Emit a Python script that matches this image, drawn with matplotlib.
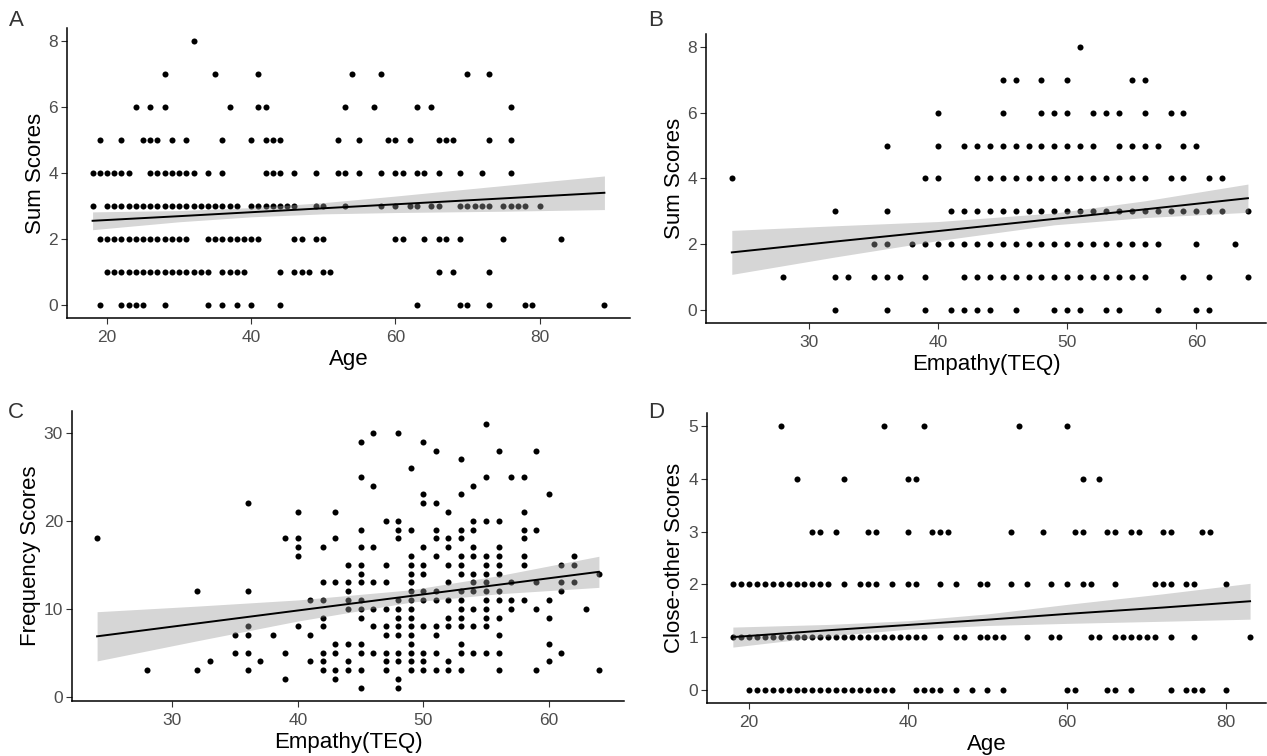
import numpy as np
import matplotlib
matplotlib.use("Agg")
import matplotlib.pyplot as plt

plt.rcParams['font.family'] = ['Liberation Sans', 'DejaVu Sans']

# Panel A: age of respondents for each sum score
a_scores = [0, 1, 2, 3, 4, 5, 6, 7, 8]
a_ages = [
    [19, 22, 23, 24, 25, 28, 34, 36, 38, 40, 44, 63, 69, 70, 73, 78, 79, 89],
    [20, 21, 22, 23, 24, 25, 26, 27, 28, 29, 30, 31, 32, 33, 34, 36, 37, 38, 39,
     44, 46, 47, 48, 50, 51, 66, 68, 73],
    [19, 20, 21, 22, 23, 24, 25, 26, 27, 28, 29, 30, 31, 34, 35, 36, 37, 38, 39,
     40, 41, 46, 47, 49, 50, 60, 61, 64, 66, 67, 69, 75, 83],
    [18, 20, 21, 22, 23, 24, 25, 26, 27, 28, 29, 30, 31, 32, 33, 34, 35, 36, 37,
     38, 40, 41, 42, 43, 44, 45, 46, 49, 50, 53, 58, 60, 62, 63, 65, 66, 69, 70,
     71, 72, 73, 75, 76, 77, 78, 80],
    [18, 19, 20, 21, 22, 23, 26, 27, 28, 29, 30, 31, 32, 34, 36, 42, 43, 44, 46,
     49, 52, 53, 55, 58, 60, 61, 63, 64, 66, 69, 72, 76],
    [19, 22, 25, 26, 27, 29, 31, 36, 40, 42, 43, 44, 52, 55, 59, 60, 62, 66, 67,
     68, 73, 76],
    [24, 26, 28, 37, 41, 42, 53, 57, 63, 65, 76],
    [28, 35, 41, 54, 58, 70, 73],
    [32],
]
# fitted line and 95% band
a_fit_x = [18, 30, 40, 50, 60, 75, 89]
a_fit_y = [2.55, 2.69, 2.81, 2.93, 3.05, 3.23, 3.40]
a_fit_lo = [2.28, 2.52, 2.67, 2.76, 2.80, 2.84, 2.89]
a_fit_hi = [2.82, 2.86, 2.95, 3.10, 3.30, 3.62, 3.91]

# Panel B: empathy (TEQ) for each sum score
b_scores = [0, 1, 2, 3, 4, 5, 6, 7, 8]
b_teq = [
    [32, 36, 39, 41, 42, 43, 44, 46, 49, 50, 51, 53, 54, 57, 60, 61],
    [28, 32, 33, 35, 36, 37, 39, 42, 43, 44, 45, 46, 47, 48, 49, 50, 51, 52, 53,
     54, 55, 56, 59, 61, 64],
    [35, 36, 38, 39, 40, 41, 42, 43, 44, 45, 46, 47, 48, 49, 50, 51, 52, 53, 54,
     55, 56, 57, 60, 63],
    [32, 36, 41, 42, 43, 44, 45, 46, 47, 48, 49, 50, 51, 52, 53, 54, 55, 56, 57,
     58, 59, 60, 61, 62, 64],
    [24, 39, 40, 43, 44, 45, 46, 47, 48, 49, 50, 51, 52, 53, 54, 55, 56, 58, 59,
     61, 62],
    [36, 40, 42, 43, 44, 45, 46, 47, 48, 49, 50, 51, 52, 54, 55, 56, 57, 59, 60],
    [40, 45, 48, 49, 50, 52, 53, 54, 56, 58, 59],
    [45, 46, 48, 50, 55, 56],
    [51],
]
b_fit_x = [24, 32, 40, 49, 56, 64]
b_fit_y = [1.75, 2.08, 2.40, 2.77, 3.06, 3.40]
b_fit_lo = [1.08, 1.61, 2.11, 2.59, 2.81, 2.97]
b_fit_hi = [2.42, 2.56, 2.69, 2.95, 3.32, 3.83]

# Panel C: frequency scores for each empathy (TEQ) value
c_teq = [24, 28, 32, 33, 35, 36, 37, 38, 39, 40, 41, 42, 43, 44, 45, 46, 47, 48,
         49, 50, 51, 52, 53, 54, 55, 56, 57, 58, 59, 60, 61, 62, 63, 64]
c_freq = [
    [18], [3], [12, 3], [4], [7, 5], [22, 12, 8, 7, 5, 3], [4], [7], [18, 5, 2],
    [21, 18, 17, 16, 8], [11, 7, 4], [17, 13, 11, 9, 8, 5, 4, 3],
    [21, 18, 13, 6, 5, 3, 2], [15, 13, 12, 11, 10, 6, 4, 3],
    [29, 25, 19, 17, 15, 14, 13, 11, 10, 9, 6, 5, 3, 1],
    [30, 24, 17, 13, 10, 8, 5], [20, 15, 13, 10, 8, 7, 5, 4, 3],
    [30, 20, 19, 18, 11, 10, 9, 8, 7, 5, 4, 2, 1],
    [26, 19, 16, 15, 14, 13, 12, 11, 10, 9, 8, 7, 6, 5, 4, 3],
    [29, 23, 22, 17, 15, 14, 12, 11, 8, 5, 4, 3],
    [28, 22, 19, 18, 16, 12, 11, 8, 7, 5, 3],
    [21, 18, 17, 15, 13, 11, 9, 8, 4, 3],
    [27, 23, 19, 18, 16, 15, 14, 12, 11, 10, 9, 8, 6, 5, 3],
    [24, 20, 19, 17, 16, 14, 13, 12, 10, 8, 5],
    [31, 25, 20, 16, 15, 14, 13, 12, 11, 10, 9, 8, 5],
    [28, 20, 17, 16, 15, 14, 12, 11, 9, 7, 5, 3],
    [25, 13, 11, 10], [25, 21, 19, 18, 16, 15, 11], [28, 19, 13, 10, 3],
    [23, 11, 9, 6, 4], [15, 13, 12, 5], [16, 15, 13], [10], [14, 3],
]
c_fit_x = [24, 32, 40, 49, 56, 64]
c_fit_y = [6.86, 8.33, 9.80, 11.45, 12.73, 14.20]
c_fit_lo = [4.06, 6.36, 8.60, 10.75, 11.70, 12.43]
c_fit_hi = [9.66, 10.30, 11.00, 12.15, 13.76, 15.97]

# Panel D: age of respondents for each close-other score
d_scores = [0, 1, 2, 3, 4, 5]
d_ages = [
    [20, 21, 22, 23, 24, 25, 26, 27, 28, 29, 30, 31, 32, 33, 34, 35, 36, 37, 38,
     41, 42, 43, 44, 46, 48, 50, 52, 60, 61, 65, 66, 68, 73, 75, 76, 77, 80],
    [18, 19, 20, 21, 22, 23, 24, 25, 26, 27, 28, 29, 30, 31, 32, 33, 34, 35, 36,
     37, 38, 39, 40, 41, 42, 44, 46, 47, 49, 50, 51, 52, 55, 58, 59, 63, 64, 66,
     67, 68, 69, 70, 71, 73, 76, 83],
    [18, 19, 20, 21, 22, 23, 24, 25, 26, 27, 28, 29, 30, 32, 34, 35, 36, 38, 40,
     41, 44, 46, 49, 50, 53, 55, 58, 60, 62, 63, 66, 71, 72, 73, 75, 76, 80],
    [28, 29, 31, 35, 36, 40, 43, 44, 45, 53, 57, 61, 62, 65, 66, 68, 69, 72, 73,
     77, 78],
    [26, 32, 40, 41, 62, 64],
    [24, 37, 42, 54, 60],
]
d_fit_x = [18, 30, 40, 50, 60, 72, 83]
d_fit_y = [1.00, 1.13, 1.23, 1.33, 1.44, 1.56, 1.68]
d_fit_lo = [0.81, 1.02, 1.15, 1.22, 1.26, 1.30, 1.34]
d_fit_hi = [1.19, 1.24, 1.31, 1.44, 1.62, 1.82, 2.02]


def flatten(groups, keys, group_is_x):
    xs, ys = [], []
    for k, vals in zip(keys, groups):
        for v in vals:
            if group_is_x:
                xs.append(k)
                ys.append(v)
            else:
                xs.append(v)
                ys.append(k)
    return xs, ys


def draw_panel(ax, x, y, fit, xlim, ylim, xticks, yticks, xlabel, ylabel):
    ax.scatter(x, y, s=19, color='black', zorder=2, linewidths=0)

    fx, fy, flo, fhi = fit
    ax.fill_between(fx, flo, fhi, color='#999999', alpha=0.4, linewidth=0, zorder=3)
    ax.plot(fx, fy, color='black', lw=1.4, zorder=4)

    ax.set_xlim(*xlim)
    ax.set_ylim(*ylim)
    ax.set_xticks(xticks)
    ax.set_yticks(yticks)
    for side in ['top', 'right']:
        ax.spines[side].set_visible(False)
    for side in ['left', 'bottom']:
        ax.spines[side].set_linewidth(1.1)
        ax.spines[side].set_color('black')
    ax.tick_params(colors='#333333', labelcolor='#4d4d4d', labelsize=12.5,
                   length=4, width=0.8, pad=2.5)
    ax.tick_params(axis='x', pad=4.5)
    ax.set_xlabel(xlabel, fontsize=16, labelpad=3)
    ax.set_ylabel(ylabel, fontsize=16, labelpad=2)


fig = plt.figure(figsize=(12.67, 7.56), dpi=100)
W, H = 1267, 756


def px_axes(left, top, right, bottom):
    return fig.add_axes([left / W, 1 - bottom / H, (right - left) / W, (bottom - top) / H])


axA = px_axes(67, 28, 630, 318)
xA, yA = flatten(a_ages, a_scores, group_is_x=False)
draw_panel(axA, xA, yA, (a_fit_x, a_fit_y, a_fit_lo, a_fit_hi),
           (14.45, 92.55), (-0.4, 8.4), [20, 40, 60, 80],
           [0, 2, 4, 6, 8], 'Age', 'Sum Scores')

axB = px_axes(706, 34, 1266, 323)
xB, yB = flatten(b_teq, b_scores, group_is_x=False)
draw_panel(axB, xB, yB, (b_fit_x, b_fit_y, b_fit_lo, b_fit_hi),
           (22, 65.4), (-0.4, 8.4), [30, 40, 50, 60],
           [0, 2, 4, 6, 8], 'Empathy(TEQ)', 'Sum Scores')

axC = px_axes(72, 411, 624, 701)
xC, yC = flatten(c_freq, c_teq, group_is_x=True)
draw_panel(axC, xC, yC, (c_fit_x, c_fit_y, c_fit_lo, c_fit_hi),
           (22, 66), (-0.5, 32.5), [30, 40, 50, 60],
           [0, 10, 20, 30], 'Empathy(TEQ)', 'Frequency Scores')

axD = px_axes(707, 413, 1266, 703)
xD, yD = flatten(d_ages, d_scores, group_is_x=False)
draw_panel(axD, xD, yD, (d_fit_x, d_fit_y, d_fit_lo, d_fit_hi),
           (14.75, 85), (-0.25, 5.25), [20, 40, 60, 80],
           [0, 1, 2, 3, 4, 5], 'Age', 'Close-other Scores')

for lab, (px, py) in zip('ABCD', [(9, 21), (648, 21), (8, 412), (648, 412)]):
    fig.text(px / W, 1 - py / H, lab, fontsize=16, color='#333333',
             ha='left', va='center')

fig.savefig('out.png', dpi=100, facecolor='white')
